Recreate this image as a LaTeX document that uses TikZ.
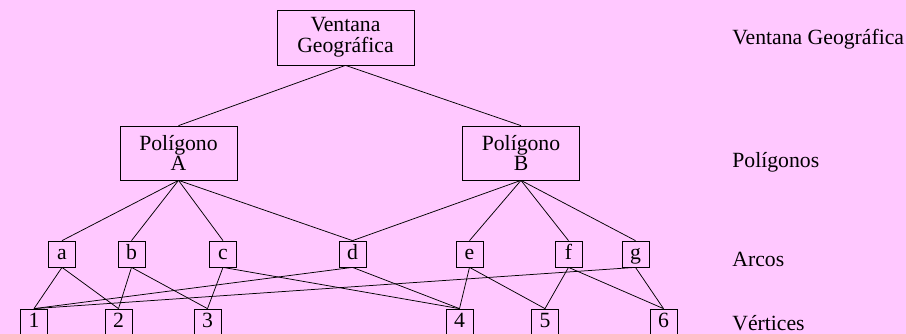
\documentclass[tikz,border=0pt]{standalone}
\usepackage{fontspec}
\setmainfont{Liberation Serif}
\usetikzlibrary{positioning}
\definecolor{fondo}{RGB}{255,200,255}

\begin{document}
\begin{tikzpicture}[x=1pt, y=-1pt, font=\fontsize{21.7}{20.6}\selectfont, line width=0.75pt,
  caja/.style={rectangle, draw, inner sep=0pt, align=center},
  cajita/.style={rectangle, draw, inner sep=0pt, minimum width=27pt, minimum height=26pt,
    text height=14pt, text depth=4pt},
  nivel/.style={anchor=base west, inner sep=0pt}]
  \fill[fondo] (0,0) rectangle (906,334);
  \useasboundingbox (0,0) rectangle (906,334);

  \node[caja, minimum width=137pt, minimum height=55pt] (VG) at (345.5,37.5) {Ventana\\Geográfica};
  \node[caja, minimum width=117pt, minimum height=54pt] (PA) at (178.5,153) {Polígono\\A};
  \node[caja, minimum width=117pt, minimum height=54pt] (PB) at (521,153) {Polígono\\B};

  \foreach \n/\x in {a/62, b/131.5, c/223, d/352.5, e/469.5, f/568.5, g/635.5}
    \node[cajita] (\n) at (\x,254) {\n};
  \foreach \n/\x in {1/34, 2/118.5, 3/207.5, 4/459.5, 5/545, 6/663.5}
    \node[cajita] (v\n) at (\x,322) {\n};

  \node[nivel] (lVG) at (732,45) {Ventana Geográfica};
  \node[nivel] (lP) at (732,168) {Polígonos};
  \node[nivel] (lA) at (732,266) {Arcos};
  \node[nivel] (lV) at (732,330) {Vértices};

  \draw (VG.south) -- (PA.north);
  \draw (VG.south) -- (PB.north);
  \foreach \n in {a,b,c,d}
    \draw (PA.south) -- (\n.north);
  \foreach \n in {d,e,f,g}
    \draw (PB.south) -- (\n.north);
  \foreach \n/\v in {a/1, a/2, b/2, b/3, c/3, c/4, d/1, d/4, e/4, e/5, f/5, f/6, g/1, g/6}
    \draw (\n.south) -- (v\v.north);
\end{tikzpicture}
\end{document}
